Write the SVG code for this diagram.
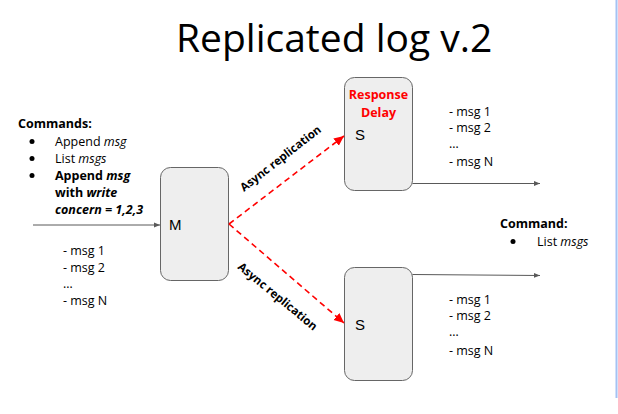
<svg xmlns="http://www.w3.org/2000/svg" width="618" height="414" viewBox="0 0 618 414">
<defs>
<style>
.t{font-family:"Open Sans","Liberation Sans",sans-serif;font-size:12.5px;fill:#000}
.b{font-weight:bold}
.i{font-style:italic}
.box{fill:#eeeeee;stroke:#666666;stroke-width:1}
.lbl{font-family:"Liberation Sans",Arial,sans-serif;font-size:15px;fill:#000}
.gray{stroke:#595959;stroke-width:1;fill:none}
.red{stroke:#ff0000;stroke-width:1.6;fill:none;stroke-dasharray:6,4}
.al{font-family:"Open Sans","Liberation Sans",sans-serif;font-size:11.5px;font-weight:bold;fill:#000}
</style>
<marker id="ga" viewBox="0 0 10 10" refX="10" refY="5" markerWidth="6" markerHeight="6" markerUnits="userSpaceOnUse" orient="auto">
<path d="M0,1 L10,5 L0,9 z" fill="#595959"/>
</marker>
<marker id="ra" viewBox="0 0 10 10" refX="10" refY="5" markerWidth="10" markerHeight="10" markerUnits="userSpaceOnUse" orient="auto">
<path d="M0,0.5 L10,5 L0,9.5 z" fill="#ff0000"/>
</marker>
</defs>
<rect width="618" height="414" fill="#ffffff"/>
<line x1="616.5" y1="0" x2="616.5" y2="398" stroke="#a4c2f4" stroke-width="2"/>

<text x="176" y="52" font-family="'Open Sans','Liberation Sans',sans-serif" font-size="39" fill="#000">Replicated log v.2</text>

<g id="commands">
<text class="t b" x="18" y="128">Commands:</text>
<circle cx="32" cy="141.5" r="2.5" fill="#000"/>
<circle cx="32" cy="158.5" r="2.5" fill="#000"/>
<circle cx="32" cy="175.5" r="2.5" fill="#000"/>
<text class="t" x="55" y="145.5">Append <tspan class="i">msg</tspan></text>
<text class="t" x="55" y="162.5">List <tspan class="i">msgs</tspan></text>
<text class="t b" x="55" y="179.5">Append <tspan class="i">msg</tspan></text>
<text class="t b" x="55" y="196.5">with <tspan class="i">write</tspan></text>
<text class="t b i" x="55" y="213.5">concern = 1,2,3</text>
</g>

<g id="m-log">
<text class="t" x="63" y="255">- msg 1</text>
<text class="t" x="63" y="272">- msg 2</text>
<text class="t" x="63" y="288">…</text>
<text class="t" x="63" y="305">- msg N</text>
</g>

<g id="node-m">
<rect class="box" x="160.5" y="167.5" width="68" height="113" rx="10"/>
<text class="lbl" x="169" y="230">M</text>
</g>

<g id="node-s1">
<rect class="box" x="344.5" y="77.5" width="68" height="113" rx="10"/>
<text class="t b" x="378.5" y="99" text-anchor="middle" style="fill:#ff0000">Response</text>
<text class="t b" x="378.5" y="116.5" text-anchor="middle" style="fill:#ff0000">Delay</text>
<text class="lbl" x="355" y="140" font-size="14">S</text>
</g>

<g id="s1-log">
<text class="t" x="449" y="115.5">- msg 1</text>
<text class="t" x="449" y="132">- msg 2</text>
<text class="t" x="449" y="148">…</text>
<text class="t" x="449" y="166">- msg N</text>
</g>

<g id="node-s2">
<rect class="box" x="344.5" y="267.5" width="68" height="113" rx="10"/>
<text class="lbl" x="355" y="330" font-size="14">S</text>
</g>

<g id="s2-log">
<text class="t" x="449" y="303.5">- msg 1</text>
<text class="t" x="449" y="320">- msg 2</text>
<text class="t" x="449" y="336">…</text>
<text class="t" x="449" y="355">- msg N</text>
</g>

<g id="command-right">
<text class="t b" x="500" y="228">Command:</text>
<circle cx="513" cy="241.5" r="2.5" fill="#000"/>
<text class="t" x="537" y="245.5">List <tspan class="i">msgs</tspan></text>
</g>

<g id="connectors">
<line class="gray" x1="33" y1="225" x2="160" y2="225" marker-end="url(#ga)"/>
<line class="gray" x1="412.5" y1="183.5" x2="540" y2="183.5" marker-end="url(#ga)"/>
<line class="gray" x1="412.5" y1="274.5" x2="540" y2="275.5" marker-end="url(#ga)"/>
<line class="red" x1="229" y1="224" x2="344" y2="136" marker-end="url(#ra)"/>
<line class="red" x1="229" y1="224" x2="344" y2="323" marker-end="url(#ra)"/>
<text class="al" transform="translate(244,192) rotate(-38)">Async replication</text>
<text class="al" transform="translate(237,268) rotate(39.5)">Async replication</text>
</g>
</svg>
